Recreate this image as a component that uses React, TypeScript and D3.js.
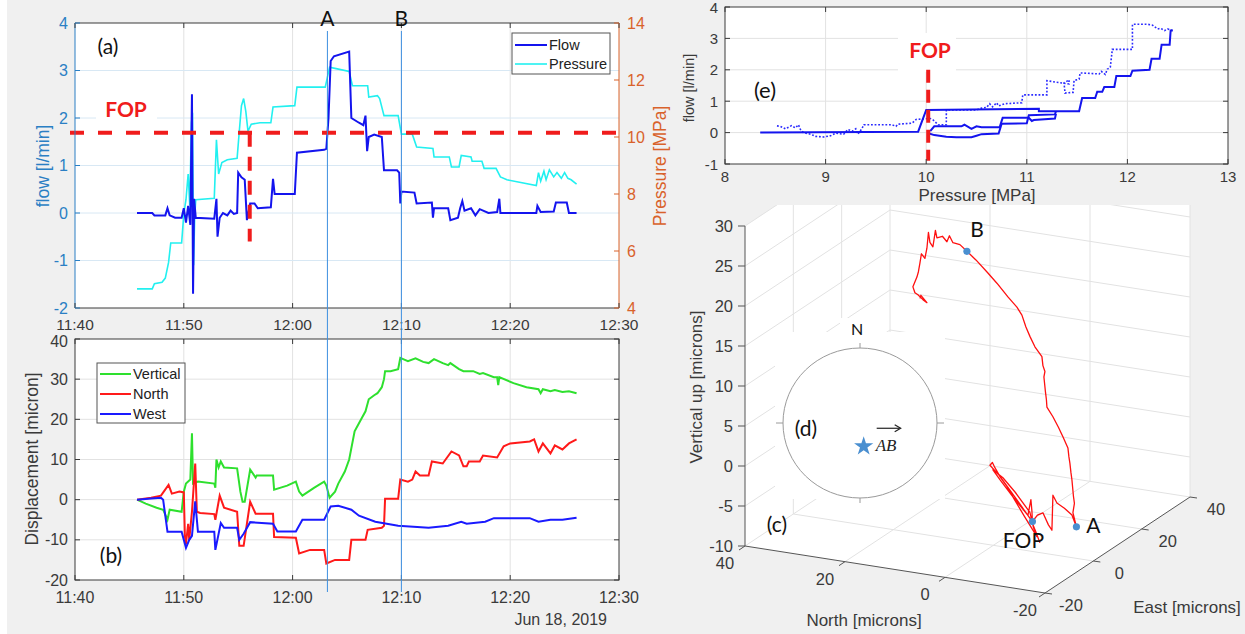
import React from 'react';
import * as d3 from 'd3';

const W = 1245;
const H = 634;
const TXT = '"Liberation Sans", Arial, sans-serif';
const NOTE = 'Lato, "Open Sans", sans-serif';
const AXC = '#3a3a3a';
const GRID = '#e2e2e2';
const BLUE_AX = '#2a7fc4';
const ORANGE_AX = '#d9622b';

// minutes after 11:40 on Jun 18, 2019
const base = new Date(2019, 5, 18, 11, 40);
const at = (m: number) => new Date(base.getTime() + m * 60000);

// ---- panel (a): flow [l/min] and pressure [MPa] vs time ----
const flowSeries: [number, number][] = [
  [5.7, 0], [7.1, 0], [7.3, -0.05], [8.3, -0.05], [8.5, 0.1], [8.7, -0.05], [9.2, -0.1], [9.8, -0.1],
  [10.0, 0.1], [10.2, -0.2], [10.4, 0.15], [10.6, -0.25], [10.75, 2.5], [10.85, -1.7], [10.95, 0.3],
  [11.1, -0.1], [12.8, -0.12], [13.0, 0.3], [13.1, -0.5], [13.3, -0.1], [13.6, 0.0], [14.0, -0.05],
  [14.3, 0.05], [14.6, -0.02], [14.9, 0.0], [15.0, 0.85], [15.3, 0.75], [15.6, 0.7], [15.8, -0.15],
  [16.1, 0.2], [16.5, 0.2], [16.8, 0.1], [18.0, 0.12], [18.2, 0.72], [18.35, 0.4], [20.2, 0.4],
  [20.4, 1.27], [22.9, 1.33], [23.1, 1.35], [23.3, 2.0], [23.5, 3.2], [23.8, 3.3], [25.2, 3.4],
  [25.4, 2.0], [26.1, 1.9], [26.5, 1.85], [26.7, 2.05], [26.85, 1.3], [27.0, 1.6], [27.5, 1.65],
  [28.2, 1.6], [28.4, 0.9], [29.6, 0.9], [29.8, 0.85], [29.9, 0.2], [30.0, 0.45], [31.2, 0.43],
  [31.4, 0.2], [32.8, 0.22], [32.9, -0.1], [33.0, 0.1], [34.3, 0.1], [34.5, -0.15], [35.2, -0.1],
  [35.4, 0.1], [35.6, 0.25], [35.8, 0.05], [36.4, 0.1], [36.8, -0.05], [37.2, 0.08], [38.0, 0.0],
  [38.8, 0.02], [39.0, 0.3], [39.1, 0.0], [42.4, 0.0], [42.5, 0.15], [42.8, 0.02], [44.0, 0.03],
  [44.2, 0.22], [45.2, 0.22], [45.4, 0.0], [46.1, 0.0],
];
const pressureSeries: [number, number][] = [
  [5.7, 4.67], [7.1, 4.67], [7.3, 4.85], [8.0, 4.9], [8.3, 5.05], [8.6, 5.6], [8.8, 6.28], [9.8, 6.28],
  [10.0, 7.3], [10.2, 7.8], [10.4, 8.7], [10.55, 7.6], [10.7, 10.5], [10.8, 10.85], [10.9, 5.5],
  [11.0, 7.2], [11.1, 7.8], [12.8, 7.85], [13.0, 9.9], [13.2, 8.7], [13.5, 9.1], [14.0, 9.2],
  [14.9, 9.25], [15.1, 10.2], [15.3, 11.1], [15.5, 11.35], [15.7, 10.9], [15.9, 10.2], [16.2, 10.45],
  [17.0, 10.5], [18.0, 10.5], [18.2, 11.05], [20.2, 11.1], [20.4, 11.75], [23.0, 11.75], [23.4, 12.45],
  [24.0, 12.4], [25.2, 12.3], [25.5, 11.8], [26.9, 11.8], [27.0, 11.4], [27.8, 11.45], [28.0, 11.35],
  [28.4, 10.75], [29.7, 10.75], [30.0, 10.1], [31.0, 10.1], [31.4, 9.65], [32.9, 9.6], [33.0, 9.3],
  [34.4, 9.3], [34.6, 8.95], [35.3, 8.95], [35.5, 9.35], [36.4, 9.3], [36.5, 9.15], [37.4, 9.15],
  [37.6, 8.9], [38.7, 8.9], [39.1, 8.6], [39.7, 8.5], [42.4, 8.3], [42.6, 8.75], [42.8, 8.45],
  [43.1, 8.8], [43.3, 8.5], [43.6, 8.85], [44.0, 8.6], [44.3, 8.75], [44.7, 8.55], [45.0, 8.75],
  [45.3, 8.55], [45.6, 8.5], [46.1, 8.35],
];
const fopMinute = 16.06;
const fopPressure = 10.15;
const fopFlowBottom = -0.6;
const markerMinutes = [23.2, 30.0];
const markerNames = ['A', 'B'];

// ---- panel (b): displacement [micron] vs time ----
const verticalSeries: [number, number][] = [
  [5.7, 0], [6.5, -1], [7.5, -2], [8.1, -2.5], [8.5, -5], [8.7, -2.5], [9.8, -3], [10.0, 2], [10.2, 4],
  [10.6, 5], [10.75, 16.5], [10.85, 4], [11.3, 4.5], [12.8, 4], [12.9, 3], [13.0, 10], [13.2, 8],
  [13.4, 9.5], [13.7, 8], [14.9, 7.8], [15.2, 2], [15.4, -0.5], [15.6, -0.5], [16.1, 7.5], [16.6, 5.5],
  [16.7, 6], [18.2, 6], [18.3, 2.5], [19.5, 3.5], [20.3, 4.5], [20.6, 2], [20.9, 1], [22.0, 3],
  [22.9, 4.5], [23.1, 3.5], [23.4, 0.5], [23.9, 2], [24.2, 4], [24.8, 7], [25.2, 10], [25.7, 17],
  [26.1, 19], [26.3, 20], [26.7, 22], [27.0, 25], [27.5, 26], [27.8, 26.5], [28.2, 28], [28.4, 30],
  [28.5, 32], [29.0, 32], [29.7, 32.5], [29.9, 35.3], [30.6, 34.5], [31.3, 35.2], [32.0, 34.3],
  [32.5, 34], [33.0, 35], [33.8, 34], [34.3, 33.5], [34.5, 34], [35.3, 32.5], [35.7, 32], [36.6, 32],
  [37.2, 31.3], [37.5, 31.5], [38.5, 30.5], [38.8, 30.5], [38.9, 28.5], [39.0, 30.5], [40.3, 29],
  [41.5, 28], [42.6, 27.5], [42.8, 26.5], [43.0, 27.5], [43.7, 27], [44.1, 27.3], [44.8, 26.8],
  [45.4, 27], [46.1, 26.5],
];
const northSeries: [number, number][] = [
  [5.7, 0], [7.0, 0.5], [7.9, 1], [8.6, 3.7], [8.9, 1.5], [9.6, 2], [10.0, 1.8], [10.1, -9], [10.2, -11],
  [10.4, -6], [10.5, -10], [10.75, -3], [11.05, 9], [11.2, -3], [11.5, -3.3], [12.8, -3.6], [12.9, -5],
  [13.3, 1], [13.7, -2], [14.9, -3], [15.1, -11.5], [15.5, -11.5], [16.1, -0.5], [16.6, -3.5],
  [18.2, -3.5], [18.3, -9.3], [20.3, -9.5], [20.6, -13.4], [21.6, -12.5], [22.9, -12.5], [23.1, -15.9],
  [23.9, -15], [25.2, -15], [25.4, -10], [26.7, -10], [26.9, -7.5], [28.2, -7], [28.4, -6.5],
  [28.5, 0.2], [29.7, 0.2], [29.9, 5], [30.6, 4.5], [31.0, 5], [31.3, 7], [31.7, 6], [32.5, 6],
  [32.8, 9.5], [33.8, 9], [34.6, 12], [35.3, 11], [35.7, 8.3], [36.0, 8.3], [36.2, 9.5], [37.2, 9.5],
  [37.5, 11], [38.8, 10.5], [39.4, 13.3], [40.0, 14], [41.8, 14.5], [42.2, 15], [42.6, 12], [43.0, 14],
  [43.7, 11.5], [44.1, 13.5], [44.8, 12.5], [45.4, 14], [46.1, 15],
];
const westSeries: [number, number][] = [
  [5.7, 0], [7.0, 0.3], [7.9, 0.5], [8.1, 0], [8.5, -8], [9.8, -8], [10.2, -12], [10.5, -10],
  [10.75, -9], [11.05, -0.4], [11.3, -8], [12.8, -8], [12.9, -12.5], [13.4, -5.8], [13.7, -7],
  [14.9, -7], [15.1, -10], [15.5, -8.5], [16.1, -5.6], [18.2, -6], [18.6, -7.9], [20.3, -7.9],
  [20.9, -5], [22.9, -5], [23.5, -1.7], [24.2, -1.5], [25.4, -2.5], [26.1, -4], [27.6, -5.5],
  [29.7, -6.5], [32.5, -7], [34.3, -6.5], [35.5, -5.5], [36.0, -6], [37.7, -5.5], [38.5, -4.6],
  [41.8, -4.6], [42.6, -5.5], [43.7, -5], [44.8, -5], [46.1, -4.5],
];
const dispNames = ['Vertical', 'North', 'West'];
const dispColors = ['#2ee02e', '#ff1a1a', '#1a1aff'];

// ---- panel (e): flow [l/min] vs pressure [MPa] ----
const eSolidMain: [number, number][] = [
  [8.35, 0], [9.92, 0.03], [10.0, 0.72], [11.12, 0.76], [11.12, 0.68], [11.52, 0.68], [11.55, 1.1],
  [11.68, 1.1], [11.7, 1.3], [11.75, 1.3], [11.77, 1.45], [11.87, 1.45], [11.89, 1.8], [12.03, 1.8],
  [12.05, 1.97], [12.22, 2.0], [12.24, 2.35], [12.32, 2.35], [12.34, 2.8], [12.42, 2.8], [12.43, 3.25],
  [12.45, 3.25],
];
const eSolidLower: [number, number][] = [
  [10.03, -0.03], [10.08, -0.08], [10.2, -0.13], [10.3, -0.15], [10.45, -0.15], [10.5, -0.1],
  [10.55, -0.05], [10.72, -0.03], [10.75, 0.28], [11.0, 0.3], [11.02, 0.55], [11.28, 0.58], [11.29, 0.68],
];
const eSolidUpper: [number, number][] = [
  [10.04, 0.05], [10.08, 0.2], [10.35, 0.2], [10.38, 0.25], [10.45, 0.12], [10.5, 0.2], [10.55, 0.17],
  [10.73, 0.17], [10.76, 0.47], [11.02, 0.47], [11.05, 0.37], [11.07, 0.4], [11.28, 0.45], [11.29, 0.6],
];
const eDotted: [number, number][] = [
  [12.45, 3.25], [12.4, 3.3], [12.37, 3.25], [12.33, 3.32], [12.3, 3.3], [12.25, 3.42], [12.2, 3.45],
  [12.05, 3.45], [12.05, 2.65], [11.85, 2.65], [11.83, 2.08], [11.8, 2.02], [11.78, 1.85], [11.74, 1.95],
  [11.72, 1.87], [11.53, 1.9], [11.52, 1.7], [11.47, 1.66], [11.46, 1.28], [11.38, 1.26], [11.37, 1.58],
  [11.42, 1.68], [11.42, 1.55], [11.2, 1.65], [11.2, 1.2], [10.96, 1.2], [10.95, 0.95], [10.78, 0.92],
  [10.72, 0.85], [10.7, 0.95], [10.66, 0.82], [10.63, 0.92], [10.6, 0.8], [10.55, 0.78], [10.5, 0.72],
  [10.2, 0.72], [10.2, 0.25], [10.12, 0.25], [10.07, 0.4], [10.04, 0.45], [9.9, 0.42], [9.86, 0.3],
  [9.72, 0.27], [9.7, 0.2], [9.66, 0.25], [9.38, 0.25], [9.36, 0.12], [9.32, -0.05], [9.3, 0.12],
  [9.27, 0.05], [9.22, 0.1], [9.18, -0.05], [9.1, -0.02], [9.05, -0.1], [8.98, -0.14], [8.9, -0.12],
  [8.85, -0.05], [8.78, 0.0], [8.75, 0.1], [8.73, 0.25], [8.7, 0.15], [8.66, 0.22], [8.6, 0.12],
  [8.55, 0.2], [8.5, 0.22],
];
const eFopPressure = 10.02;

// ---- panel (c): trajectory [north, east, up] in microns ----
const trajectory: [number, number, number][] = [
  [-6.9, 5, -10.0], [-6.0, 5, -8.6], [-5.1, 5, -7.3], [-3.2, 5, -5.8], [-0.9, 5, -4.0], [1.2, 5, -2.4],
  [3.1, 5, -1.3], [2.6, 5, -0.9], [2.1, 5, -1.5], [1.0, 5, -2.6], [-0.3, 5, -3.6], [-1.9, 5, -5.2],
  [-3.8, 5, -7.0], [-6.3, 5, -9.3], [-5.6, 5, -8.2], [-4.9, 5, -6.4], [-2.0, 5, -4.2], [0.5, 5, -2.6],
  [2.5, 5, -1.8], [1.1, 5, -2.9], [-1.5, 5, -4.8], [-4.5, 5, -6.8], [-5.1, 5, -4.8], [-5.3, 5, -6.2],
  [-5.4, 5, -7.5], [-6.4, 5, -6.6], [-7.5, 5, -6.2], [-8.6, 5, -7.6], [-9.3, 5, -8.2], [-9.5, 5, -3.8],
  [-10.3, 5, -4.7], [-11.8, 5, -5.2], [-13.3, 5, -5.9], [-14.2, 5, -7.3], [-13.5, 5, -5.6],
  [-13.8, 5, -4.4], [-13.6, 5, -3.5], [-13.3, 5, -1.5], [-13.1, 5, -0.6], [-12.9, 5, 0.5],
  [-12.7, 5, 1.3], [-12.5, 5, 2.4], [-11.5, 5, 3.7], [-10.6, 5, 4.8], [-9.5, 5, 6.0], [-8.3, 5, 7.1],
  [-8.2, 5, 8.0], [-8.0, 5, 9.0], [-7.7, 5, 10.8], [-7.9, 5, 11.5], [-7.5, 5, 12.2], [-7.3, 5, 13.3],
  [-5.9, 5, 14.4], [-4.9, 5, 15.6], [-4.1, 5, 16.7], [-3.3, 5, 18.1], [-2.3, 5, 19.0], [-0.5, 5, 20.1],
  [1.7, 5, 21.6], [3.5, 5, 22.7], [5.9, 5, 24.1], [7.7, 5, 25.0], [9.1, 5, 25.7], [10.5, 5, 25.8],
  [11.2, 5, 26.6], [11.7, 5, 25.8], [12.6, 5, 26.4], [13.7, 5, 26.1], [14.0, 5, 27.0], [14.5, 5, 24.9],
  [15.1, 5, 25.4], [15.4, 5, 26.6], [15.7, 5, 24.6], [16.1, 5, 23.3], [16.8, 5, 23.8], [17.1, 5, 22.6],
  [17.4, 5, 21.5], [17.7, 5, 20.8], [18.5, 5, 19.5], [18.1, 5, 18.8], [17.5, 5, 18.6], [16.5, 5, 18.1],
  [15.7, 5, 17.8], [16.9, 5, 18.6], [17.1, 5, 18.2],
];
const keyPoints = [
  { name: 'B', p: [7.7, 5, 25.0], dx: 10, dy: -23, anchor: 'middle' },
  { name: 'FOP', p: [-5.4, 5, -7.5], dx: -9, dy: 18, anchor: 'middle' },
  { name: 'A', p: [-14.2, 5, -7.3], dx: 17, dy: -2, anchor: 'middle' },
];
const zTicks = [-10, -5, 0, 5, 10, 15, 20, 25, 30];
const nTicks = [40, 20, 0, -20];
const eTicks = [-20, 0, 20, 40];
// inset (d): direction of AB
const starAzimuth = 171;
const starRadius = 0.31;

function PanelA({ x }: { x: d3.ScaleTime<number, number> }) {
  const L = 75, R = 619, T = 23, B = 308;
  const yF = d3.scaleLinear().domain([-2, 4]).range([B, T]);
  const yP = d3.scaleLinear().domain([4, 14]).range([B, T]);
  const flowLine = d3.line<[number, number]>().x(d => x(at(d[0]))).y(d => yF(d[1]));
  const presLine = d3.line<[number, number]>().x(d => x(at(d[0]))).y(d => yP(d[1]));
  const tTicks = x.ticks(d3.timeMinute.every(10) as any);
  const fmt = d3.timeFormat('%H:%M');
  const fopY = yP(fopPressure);
  return (
    <g>
      <rect x={L} y={T} width={R - L} height={B - T} fill="#fff" />
      {tTicks.slice(1, -1).map((t, i) => (
        <line key={'gv' + i} x1={x(t)} x2={x(t)} y1={T} y2={B} stroke={GRID} />
      ))}
      {yF.ticks(6).filter(v => v > -2 && v < 4).map(v => (
        <line key={'gh' + v} x1={L} x2={R} y1={yF(v)} y2={yF(v)} stroke="#d8e8f4" />
      ))}
      {/* white backing for FOP label */}
      <rect x={96} y={95} width={61} height={28} fill="#fff" />
      <text x={126} y={117} fontFamily={NOTE} fontWeight={700} fontSize={21} fill="#f01c1c" textAnchor="middle">FOP</text>
      <path d={presLine(pressureSeries) || ''} fill="none" stroke="#22f0f0" strokeWidth={1.6} />
      <path d={flowLine(flowSeries) || ''} fill="none" stroke="#1414ee" strokeWidth={2} />
      <line x1={L - 5} x2={R + 1} y1={fopY} y2={fopY} stroke="#f01c1c" strokeWidth={4} strokeDasharray="14 14" />
      <line x1={x(at(fopMinute))} x2={x(at(fopMinute))} y1={fopY} y2={yF(fopFlowBottom)}
        stroke="#f01c1c" strokeWidth={4} strokeDasharray="14 10" />
      {/* frame */}
      <line x1={L} x2={R} y1={T} y2={T} stroke={AXC} />
      <line x1={L} x2={R} y1={B} y2={B} stroke={AXC} />
      <line x1={L} x2={L} y1={T} y2={B} stroke={BLUE_AX} />
      <line x1={R} x2={R} y1={T} y2={B} stroke={ORANGE_AX} />
      {tTicks.map((t, i) => (
        <g key={'tt' + i}>
          <line x1={x(t)} x2={x(t)} y1={B} y2={B - 5} stroke={AXC} />
          <line x1={x(t)} x2={x(t)} y1={T} y2={T + 5} stroke={AXC} />
          <text x={x(t)} y={324} textAnchor="middle" dominantBaseline="central" fontFamily={TXT} fontSize={15.5} fill={AXC}>{fmt(t)}</text>
        </g>
      ))}
      {yF.ticks(6).map(v => (
        <g key={'yl' + v}>
          <line x1={L} x2={L + 5} y1={yF(v)} y2={yF(v)} stroke={BLUE_AX} />
          <text x={68} y={yF(v)} textAnchor="end" dominantBaseline="central" fontFamily={TXT} fontSize={16} fill={BLUE_AX}>{v}</text>
        </g>
      ))}
      {yP.ticks(5).map(v => (
        <g key={'yr' + v}>
          <line x1={R} x2={R - 5} y1={yP(v)} y2={yP(v)} stroke={ORANGE_AX} />
          <text x={627} y={yP(v)} dominantBaseline="central" fontFamily={TXT} fontSize={16} fill={ORANGE_AX}>{v}</text>
        </g>
      ))}
      <text transform="translate(43,166) rotate(-90)" textAnchor="middle" dominantBaseline="central" fontFamily={TXT} fontSize={17.5} fill={BLUE_AX}>flow [l/min]</text>
      <text transform="translate(660,166) rotate(-90)" textAnchor="middle" dominantBaseline="central" fontFamily={TXT} fontSize={17.5} fill={ORANGE_AX}>Pressure [MPa]</text>
      <text x={108} y={45} textAnchor="middle" dominantBaseline="central" fontFamily={NOTE} fontSize={21} fill="#111">(a)</text>
      {/* legend */}
      <rect x={512} y={33} width={98} height={41} fill="#fff" stroke="#555" />
      <line x1={515} x2={547} y1={45} y2={45} stroke="#1414ee" strokeWidth={2} />
      <text x={549} y={45} dominantBaseline="central" fontFamily={TXT} fontSize={14.5} fill="#222">Flow</text>
      <line x1={515} x2={547} y1={64} y2={64} stroke="#22f0f0" strokeWidth={1.6} />
      <text x={549} y={64} dominantBaseline="central" fontFamily={TXT} fontSize={14.5} fill="#222">Pressure</text>
    </g>
  );
}

function PanelB({ x }: { x: d3.ScaleTime<number, number> }) {
  const L = 75, R = 619, T = 339, B = 580;
  const y = d3.scaleLinear().domain([-20, 40]).range([B, T]);
  const line = d3.line<[number, number]>().x(d => x(at(d[0]))).y(d => y(d[1]));
  const tTicks = x.ticks(d3.timeMinute.every(10) as any);
  const fmt = d3.timeFormat('%H:%M');
  const series = [verticalSeries, northSeries, westSeries];
  return (
    <g>
      <rect x={L} y={T} width={R - L} height={B - T} fill="#fff" />
      {tTicks.slice(1, -1).map((t, i) => (
        <line key={'gv' + i} x1={x(t)} x2={x(t)} y1={T} y2={B} stroke={GRID} />
      ))}
      {y.ticks(6).filter(v => v > -20 && v < 40).map(v => (
        <line key={'gh' + v} x1={L} x2={R} y1={y(v)} y2={y(v)} stroke={GRID} />
      ))}
      {series.map((s, i) => (
        <path key={'s' + i} d={line(s) || ''} fill="none" stroke={dispColors[i]} strokeWidth={2} />
      ))}
      <rect x={L} y={T} width={R - L} height={B - T} fill="none" stroke={AXC} />
      {tTicks.map((t, i) => (
        <g key={'tt' + i}>
          <line x1={x(t)} x2={x(t)} y1={B} y2={B - 5} stroke={AXC} />
          <line x1={x(t)} x2={x(t)} y1={T} y2={T + 5} stroke={AXC} />
          <text x={x(t)} y={597} textAnchor="middle" dominantBaseline="central" fontFamily={TXT} fontSize={16} fill={AXC}>{fmt(t)}</text>
        </g>
      ))}
      {y.ticks(6).map(v => (
        <g key={'yl' + v}>
          <line x1={L} x2={L + 5} y1={y(v)} y2={y(v)} stroke={AXC} />
          <line x1={R} x2={R - 5} y1={y(v)} y2={y(v)} stroke={AXC} />
          <text x={68} y={y(v) + (v === 40 ? 2 : 0)} textAnchor="end" dominantBaseline="central" fontFamily={TXT} fontSize={16} fill={AXC}>{v}</text>
        </g>
      ))}
      <text transform="translate(32,459) rotate(-90)" textAnchor="middle" dominantBaseline="central" fontFamily={TXT} fontSize={17.5} fill={AXC}>Displacement [micron]</text>
      <text x={607} y={619} textAnchor="end" dominantBaseline="central" fontFamily={TXT} fontSize={16} fill={AXC}>Jun 18, 2019</text>
      <text x={111} y={554} textAnchor="middle" dominantBaseline="central" fontFamily={NOTE} fontSize={21} fill="#111">(b)</text>
      <rect x={97} y={363} width={88} height={60} fill="#fff" stroke="#555" />
      {dispNames.map((n, i) => (
        <g key={n}>
          <line x1={100} x2={131} y1={374 + i * 20} y2={374 + i * 20} stroke={dispColors[i]} strokeWidth={2} />
          <text x={133} y={374 + i * 20} dominantBaseline="central" fontFamily={TXT} fontSize={14.5} fill="#222">{n}</text>
        </g>
      ))}
    </g>
  );
}

function PanelE() {
  const L = 725, R = 1228, T = 7, B = 164;
  const xP = d3.scaleLinear().domain([8, 13]).range([L, R]);
  const yF = d3.scaleLinear().domain([-1, 4]).range([B, T]);
  const line = d3.line<[number, number]>().x(d => xP(d[0])).y(d => yF(d[1]));
  const xt = xP.ticks(5);
  const yt = yF.ticks(5);
  return (
    <g>
      <rect x={L} y={T} width={R - L} height={B - T} fill="#fff" />
      {xt.slice(1, -1).map(v => (
        <line key={'gx' + v} x1={xP(v)} x2={xP(v)} y1={T} y2={B} stroke={GRID} />
      ))}
      {yt.slice(1, -1).map(v => (
        <line key={'gy' + v} x1={L} x2={R} y1={yF(v)} y2={yF(v)} stroke={GRID} />
      ))}
      <rect x={898} y={33} width={58} height={39} fill="#fff" />
      <text x={930} y={58} textAnchor="middle" fontFamily={NOTE} fontWeight={700} fontSize={21} fill="#f01c1c">FOP</text>
      <path d={line(eDotted) || ''} fill="none" stroke="#2a2aff" strokeWidth={1.6} strokeDasharray="1.8 1.8" />
      {[eSolidMain, eSolidLower, eSolidUpper].map((s, i) => (
        <path key={'es' + i} d={line(s) || ''} fill="none" stroke="#1414ee" strokeWidth={2} />
      ))}
      <line x1={xP(eFopPressure)} x2={xP(eFopPressure)} y1={yF(2)} y2={yF(-0.9)} stroke="#f01c1c" strokeWidth={4} strokeDasharray="13 7" />
      <rect x={L} y={T} width={R - L} height={B - T} fill="none" stroke={AXC} />
      {xt.map(v => (
        <g key={'xt' + v}>
          <line x1={xP(v)} x2={xP(v)} y1={B} y2={B - 5} stroke={AXC} />
          <line x1={xP(v)} x2={xP(v)} y1={T} y2={T + 5} stroke={AXC} />
          <text x={xP(v)} y={176} textAnchor="middle" dominantBaseline="central" fontFamily={TXT} fontSize={15} fill={AXC}>{v}</text>
        </g>
      ))}
      {yt.map(v => (
        <g key={'yt' + v}>
          <line x1={L} x2={L + 5} y1={yF(v)} y2={yF(v)} stroke={AXC} />
          <line x1={R} x2={R - 5} y1={yF(v)} y2={yF(v)} stroke={AXC} />
          <text x={718} y={yF(v)} textAnchor="end" dominantBaseline="central" fontFamily={TXT} fontSize={15} fill={AXC}>{v}</text>
        </g>
      ))}
      <text x={977} y={195} textAnchor="middle" dominantBaseline="central" fontFamily={TXT} fontSize={17} fill={AXC}>Pressure [MPa]</text>
      <text transform="translate(689,88) rotate(-90)" textAnchor="middle" dominantBaseline="central" fontFamily={TXT} fontSize={14.5} fill={AXC}>flow [l/min]</text>
      <text x={765} y={89} textAnchor="middle" dominantBaseline="central" fontFamily={NOTE} fontSize={22} fill="#111">(e)</text>
    </g>
  );
}

function PanelC() {
  const sxN = d3.scaleLinear().domain([40, -20]).range([0, 300]);
  const syN = d3.scaleLinear().domain([40, -20]).range([0, 47]);
  const sxE = d3.scaleLinear().domain([-20, 40]).range([0, 145]);
  const syE = d3.scaleLinear().domain([-20, 40]).range([0, -96]);
  const sZ = d3.scaleLinear().domain([-10, 30]).range([0, -320]);
  const P = (n: number, e: number, z: number): [number, number] => [745 + sxN(n) + sxE(e), 546 + syN(n) + syE(e) + sZ(z)];
  const seg = (a: [number, number], b: [number, number], key: string, color = GRID) => (
    <line key={key} x1={a[0]} y1={a[1]} x2={b[0]} y2={b[1]} stroke={color} />
  );
  const hex = [P(40, -20, 30), P(40, -20, -10), P(-20, -20, -10), P(-20, 40, -10), P(-20, 40, 30), P(40, 40, 30)];
  const traj = d3.line<[number, number, number]>().x(d => P(d[0], d[1], d[2])[0]).y(d => P(d[0], d[1], d[2])[1]);

  // inset (d)
  const cx = 860, cy = 423;
  const rS = d3.scaleLinear().domain([0, 1]).range([0, 76]);
  const az = (starAzimuth * Math.PI) / 180;
  const sx = cx + rS(starRadius) * Math.sin(az);
  const sy = cy - rS(starRadius) * Math.cos(az);
  const star = d3.symbol().type(d3.symbolStar).size(115)();

  return (
    <g>
      <defs>
        <clipPath id="cclip"><rect x={680} y={205} width={565} height={429} /></clipPath>
      </defs>
      <g clipPath="url(#cclip)">
        <polygon points={hex.map(p => p.join(',')).join(' ')} fill="#fff" />
        {zTicks.map(z => (
          <g key={'zw' + z}>
            {seg(P(40, -20, z), P(40, 40, z), 'l' + z)}
            {seg(P(40, 40, z), P(-20, 40, z), 'r' + z)}
          </g>
        ))}
        {eTicks.slice(1).map(e => seg(P(40, e, -10), P(40, e, 30), 've' + e))}
        {nTicks.slice(1).map(n => seg(P(n, 40, -10), P(n, 40, 30), 'vn' + n))}
        {nTicks.slice(1, -1).map(n => seg(P(n, -20, -10), P(n, 40, -10), 'fn' + n))}
        {eTicks.slice(1, -1).map(e => seg(P(40, e, -10), P(-20, e, -10), 'fe' + e))}
      </g>
      {/* inset backing */}
      <rect x={775} y={332} width={170} height={167} fill="#fff" />
      <rect x={840} y={318} width={35} height={18} fill="#fff" />
      <ellipse cx={cx} cy={cy} rx={77} ry={75} fill="none" stroke="#9a9a9a" />
      <line x1={cx} x2={cx} y1={cy - 75} y2={cy - 80} stroke="#9a9a9a" />
      <line x1={cx} x2={cx} y1={cy + 75} y2={cy + 80} stroke="#9a9a9a" />
      <line x1={cx - 77} x2={cx - 84} y1={cy} y2={cy} stroke="#9a9a9a" />
      <line x1={cx + 77} x2={cx + 84} y1={cy} y2={cy} stroke="#9a9a9a" />
      <text x={857} y={328} textAnchor="middle" dominantBaseline="central" fontFamily={NOTE} fontSize={16} fill="#111">N</text>
      <path d={star || ''} transform={`translate(${sx},${sy})`} fill="#4a8fd0" />
      <text x={sx + 12} y={sy + 5} fontFamily='"Liberation Serif", serif' fontStyle="italic" fontSize={17} fill="#222">AB</text>
      <line x1={sx + 13} x2={sx + 36} y1={sy - 18} y2={sy - 18} stroke="#222" strokeWidth={1.2} />
      <path d={`M${sx + 31},${sy - 21.5} L${sx + 37},${sy - 18} L${sx + 31},${sy - 14.5}`} fill="none" stroke="#222" strokeWidth={1.2} />
      <text x={806} y={427} textAnchor="middle" dominantBaseline="central" fontFamily={NOTE} fontSize={21} fill="#111">(d)</text>

      {/* axes */}
      <line x1={745} x2={745} y1={P(40, -20, 30)[1]} y2={P(40, -20, -10)[1]} stroke="#555" />
      <line x1={P(40, -20, -10)[0]} y1={P(40, -20, -10)[1]} x2={P(-20, -20, -10)[0]} y2={P(-20, -20, -10)[1]} stroke="#555" />
      <line x1={P(-20, -20, -10)[0]} y1={P(-20, -20, -10)[1]} x2={P(-20, 40, -10)[0]} y2={P(-20, 40, -10)[1]} stroke="#555" />
      {zTicks.map(z => {
        const [px, py] = P(40, -20, z);
        return (
          <g key={'zt' + z}>
            <line x1={px} x2={px - 7} y1={py} y2={py} stroke="#555" />
            <text x={733} y={py} textAnchor="end" dominantBaseline="central" fontFamily={TXT} fontSize={16.5} fill={AXC}>{z}</text>
          </g>
        );
      })}
      {nTicks.map(n => {
        const [px, py] = P(n, -20, -10);
        return (
          <g key={'nt' + n}>
            <line x1={px} x2={px - 6} y1={py} y2={py + 4} stroke="#555" />
            <text x={px - 20} y={py + 17} textAnchor="middle" dominantBaseline="central" fontFamily={TXT} fontSize={16.5} fill={AXC}>{n}</text>
          </g>
        );
      })}
      {eTicks.map(e => {
        const [px, py] = P(-20, e, -10);
        return (
          <g key={'et' + e}>
            <line x1={px} x2={px + 7} y1={py} y2={py + 1} stroke="#555" />
            <text x={px + 26} y={py + 12} textAnchor="middle" dominantBaseline="central" fontFamily={TXT} fontSize={16.5} fill={AXC}>{e}</text>
          </g>
        );
      })}
      <text transform="translate(696,387) rotate(-90)" textAnchor="middle" dominantBaseline="central" fontFamily={TXT} fontSize={17} fill={AXC}>Vertical up [microns]</text>
      <text x={864} y={620} textAnchor="middle" dominantBaseline="central" fontFamily={TXT} fontSize={17} fill={AXC}>North [microns]</text>
      <text x={1187} y={607} textAnchor="middle" dominantBaseline="central" fontFamily={TXT} fontSize={17} fill={AXC}>East [microns]</text>
      <text x={777} y={523} textAnchor="middle" dominantBaseline="central" fontFamily={NOTE} fontSize={21} fill="#111">(c)</text>

      <path d={traj(trajectory) || ''} fill="none" stroke="#ff1010" strokeWidth={1.3} strokeLinejoin="round" />
      {keyPoints.map(k => {
        const [px, py] = P(k.p[0], k.p[1], k.p[2]);
        return (
          <g key={k.name}>
            <circle cx={px} cy={py} r={3.6} fill="#4a8fd0" />
            <text x={px + k.dx} y={py + k.dy} textAnchor={k.anchor as any} dominantBaseline="central" fontFamily={NOTE} fontSize={21} fill="#111">{k.name}</text>
          </g>
        );
      })}
    </g>
  );
}

export default function App() {
  const x = d3.scaleTime().domain([at(0), at(50)]).range([75, 619]);
  return (
    <div style={{ position: 'absolute', left: 0, top: 0, width: W, height: H, overflow: 'hidden' }}>
      <svg width={W} height={H} viewBox={`0 0 ${W} ${H}`} style={{ display: 'block' }}>
        <rect width={W} height={H} fill="#f0f0f0" />
        <rect width={7} height={H} fill="#fff" />
        <PanelC />
        <rect x={680} y={0} width={565} height={205} fill="#f0f0f0" />
        <PanelE />
        <PanelA x={x} />
        <PanelB x={x} />
        {markerMinutes.map((m, i) => (
          <g key={markerNames[i]}>
            <line x1={x(at(m))} x2={x(at(m))} y1={31} y2={592} stroke="#3d8fe0" strokeWidth={1} />
            <text x={x(at(m))} y={17} textAnchor="middle" dominantBaseline="central" fontFamily={NOTE} fontSize={21} fill="#111">{markerNames[i]}</text>
          </g>
        ))}
      </svg>
    </div>
  );
}
